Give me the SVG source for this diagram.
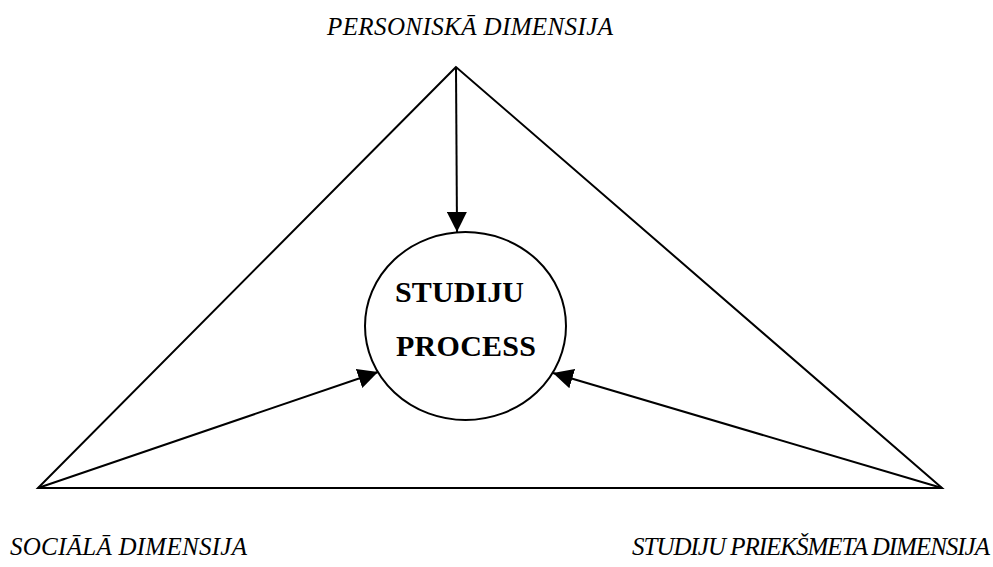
<svg xmlns="http://www.w3.org/2000/svg" width="993" height="567" viewBox="0 0 993 567">
<style>
.edge{stroke:#000;stroke-width:2;fill:none}
.lbl{font-family:"Liberation Serif","Times New Roman",serif;font-style:italic;font-size:25px;fill:#000}
.core{font-family:"Liberation Serif","Times New Roman",serif;font-weight:bold;font-size:30px;fill:#000}
</style>
<defs>
<marker id="ah" markerUnits="userSpaceOnUse" markerWidth="22" markerHeight="20" refX="20" refY="10" orient="auto">
<path d="M0,0 L20,10 L0,20 Z" fill="#000"/>
</marker>
</defs>
<rect width="993" height="567" fill="#fff"/>
<g id="triangle">
<polygon class="edge" points="456,67 38,488 942,488"/>
</g>
<g id="connectors">
<line class="edge" x1="456" y1="67" x2="457" y2="232" marker-end="url(#ah)"/>
<line class="edge" x1="38" y1="488" x2="378" y2="372" marker-end="url(#ah)"/>
<line class="edge" x1="942" y1="488" x2="553" y2="373" marker-end="url(#ah)"/>
</g>
<g id="studiju-process">
<ellipse class="edge" cx="465.5" cy="326" rx="100.5" ry="94"/>
<text class="core" x="395" y="302" textLength="129">STUDIJU</text>
<text class="core" x="396" y="356" textLength="140">PROCESS</text>
</g>
<g id="personiska">
<text class="lbl" x="327" y="35" textLength="286">PERSONISKĀ DIMENSIJA</text>
</g>
<g id="sociala">
<text class="lbl" x="10" y="555" textLength="237">SOCIĀLĀ DIMENSIJA</text>
</g>
<g id="prieksmeta">
<text class="lbl" x="632" y="555" textLength="358">STUDIJU PRIEKŠMETA DIMENSIJA</text>
</g>
</svg>
